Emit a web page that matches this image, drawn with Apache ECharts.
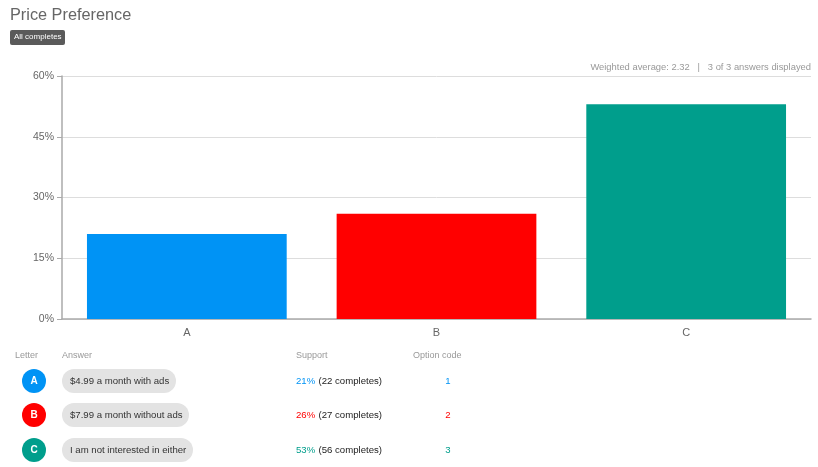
<!DOCTYPE html>
<html>
<head>
<meta charset="utf-8">
<script src="https://cdn.jsdelivr.net/npm/echarts@6/dist/echarts.min.js"></script>
<style>
html,body{margin:0;padding:0;background:#fff;}
#chart{width:818px;height:467px;}
</style>
</head>
<body>
<div id="chart"></div>
<script>
const categories = ['A', 'B', 'C'];
const percentValues = [21, 26, 53];
const completes = [22, 27, 56];
const answers = ['$4.99 a month with ads', '$7.99 a month without ads', 'I am not interested in either'];
const optionCodes = ['1', '2', '3'];
const colors = ['#0093f5', '#ff0000', '#009e8c'];
const yTicks = [0, 15, 30, 45, 60];

const FONT = 'Liberation Sans, Arial, sans-serif';
const chart = echarts.init(document.getElementById('chart'), null, {renderer: 'canvas'});

const TF = '9.6px ' + FONT;
const measureCtx = document.createElement('canvas').getContext('2d');
measureCtx.font = TF;

const graphics = [];
graphics.push({type: 'text', left: 10, top: 8, style: {text: 'Price Preference', fill: '#666', font: '16.3px ' + FONT}});
graphics.push({type: 'rect', left: 10, top: 30, shape: {width: 55, height: 15, r: 2}, style: {fill: '#5a5a5a'}});
graphics.push({type: 'text', left: 14, top: 33, style: {text: 'All completes', fill: '#fff', font: '8px ' + FONT}});
graphics.push({type: 'text', right: 7, top: 63, style: {text: 'Weighted average: 2.32   |   3 of 3 answers displayed', fill: '#999', font: '9.4px ' + FONT}});
const hdrY = 351;
[['Letter', 15], ['Answer', 62], ['Support', 296], ['Option code', 413]].forEach(([t, x]) => {
  graphics.push({type: 'text', left: x, top: hdrY, style: {text: t, fill: '#999', font: '9px ' + FONT}});
});
const rowY = [381, 415, 450];
categories.forEach((c, i) => {
  const cy = rowY[i];
  graphics.push({type: 'circle', shape: {cx: 34, cy: cy, r: 12}, style: {fill: colors[i]}});
  graphics.push({type: 'text', x: 34, y: cy, style: {text: c, fill: '#fff', font: 'bold 10px ' + FONT, align: 'center', verticalAlign: 'middle'}});
  const w = Math.ceil(measureCtx.measureText(answers[i]).width) + 14;
  graphics.push({type: 'rect', shape: {x: 62, y: cy - 12, width: w, height: 24, r: 12}, style: {fill: '#e3e3e3'}});
  graphics.push({type: 'text', x: 70, y: cy, style: {text: answers[i], fill: '#333', font: TF, verticalAlign: 'middle'}});
  graphics.push({type: 'text', x: 296, y: cy, style: {
    text: '{p|' + percentValues[i] + '%} {c|(' + completes[i] + ' completes)}',
    verticalAlign: 'middle',
    rich: {p: {fill: colors[i], font: TF}, c: {fill: '#222', font: TF}}
  }});
  graphics.push({type: 'text', x: 448, y: cy, style: {text: optionCodes[i], fill: colors[i], font: TF, align: 'center', verticalAlign: 'middle'}});
});

chart.setOption({
  animation: false,
  textStyle: {fontFamily: FONT},
  grid: {left: 62, right: 7, top: 76, bottom: 148, containLabel: false},
  xAxis: {
    type: 'category',
    data: categories,
    axisLine: {lineStyle: {color: '#aaa', width: 1.5}},
    axisTick: {alignWithLabel: true, length: 5, lineStyle: {color: '#aaa'}},
    axisLabel: {color: '#666', fontSize: 11, margin: 8}
  },
  yAxis: {
    type: 'value',
    min: yTicks[0], max: yTicks[yTicks.length - 1], interval: 15,
    axisLine: {show: true, lineStyle: {color: '#aaa', width: 1.5}},
    axisTick: {show: true, length: 5, lineStyle: {color: '#aaa'}},
    axisLabel: {color: '#666', fontSize: 10.5, margin: 8, formatter: v => v + '%'},
    splitLine: {lineStyle: {color: '#ddd'}}
  },
  series: [{
    type: 'bar',
    barWidth: '80%',
    data: percentValues.map((v, i) => ({value: v, itemStyle: {color: colors[i]}}))
  }],
  graphic: graphics
});
</script>
</body>
</html>
